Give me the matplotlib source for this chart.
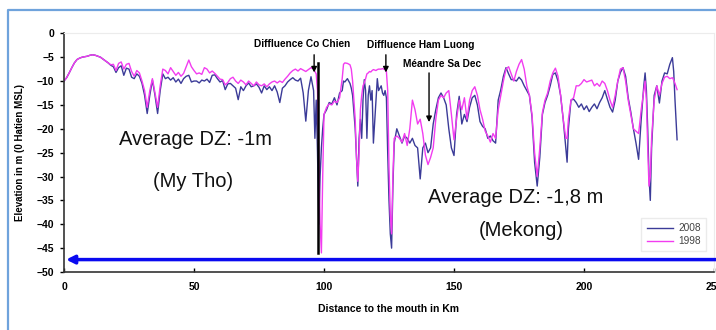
import matplotlib
matplotlib.use("Agg")
import matplotlib.pyplot as plt
from matplotlib.lines import Line2D

plt.rcParams['font.family'] = ['Liberation Sans', 'DejaVu Sans']

# Distance to the mouth (km)
km = [0, 1, 2, 3, 4, 5, 6, 7, 8, 9, 10, 11, 12, 13, 14, 15, 16, 17, 18,
      19, 20, 21, 22, 23, 24, 25, 26, 27, 28, 29, 30,
      31, 32, 33, 34, 35, 36, 37, 38,
      39, 40, 41, 42, 43, 44, 45, 46, 47, 48, 49, 50,
      51, 52, 53, 54, 55, 56, 57, 58, 59, 60, 61, 62, 63, 64, 65, 66, 67, 68, 69, 70,
      71, 72, 73, 74, 75, 76, 77, 78, 79, 80, 81, 82, 83, 84, 85, 86, 87, 88, 89, 90,
      91, 92, 93, 94, 95, 96, 96.5, 97, 97.5, 98, 98.5, 99, 99.5, 100,
      101, 102, 103, 104, 105, 106, 107, 107.5, 108, 109, 110, 110.5, 111, 112, 112.5, 113,
      113.5, 114, 114.5, 115, 115.5, 116, 116.5, 117, 117.5, 118, 118.5, 119, 120, 120.5,
      121, 122, 122.5, 123, 123.5, 124, 124.5, 125, 125.5, 126, 126.5,
      127, 128, 129, 130, 131, 132, 133, 134, 135, 136, 137, 138, 139, 140,
      141, 142, 143, 144, 145, 146, 147, 148, 149, 150,
      151, 152, 153, 154, 155, 156, 157, 158, 159, 160,
      161, 162, 163, 164, 165, 166, 167, 168, 169, 170,
      171, 172, 173, 174, 175, 176, 177, 178, 179, 180,
      181, 182, 183, 184, 185, 186, 187, 188, 189, 190,
      191, 192, 193, 193.5, 194, 195, 196, 197, 198, 199, 200,
      201, 202, 203, 204, 205, 206, 207, 208, 209, 210,
      211, 212, 213, 214, 215, 216, 217, 218, 219, 220,
      221, 222, 223, 223.5, 224, 224.5, 225, 225.5, 226, 227, 228, 229, 230,
      231, 232, 233, 234, 234.5, 235, 235.8]

# 1998 survey (m, 0 Hatien MSL)
z1998 = [-10, -9.3, -8.3, -7.2, -6.2, -5.5, -5.2, -5.0, -4.9, -4.8, -4.6, -4.5, -4.6, -4.8, -5.0, -5.4, -5.8, -6.2, -6.6,
         -6.5, -7.8, -6.3, -6.0, -7.5, -6.5, -6.3, -8.0, -9.0, -7.8, -8.3, -10.0,
         -12, -15.5, -12, -9.5, -12.5, -15.5, -11, -7.5,
         -7.8, -8.5, -7.2, -8.0, -8.8, -8.2, -9.0, -8.4, -7.0, -5.6, -7.0, -7.8,
         -8.5, -8.3, -8.6, -7.2, -7.5, -8.3, -7.9, -8.4, -9.0, -9.6, -9.7, -10.8, -10.3, -9.5, -9.2, -10.0, -10.5, -9.8, -10.2, -10.8,
         -10.0, -10.5, -11.0, -10.2, -10.8, -11.0, -10.6, -11.2, -10.6, -10.2, -10.0, -10.4, -10.0, -10.3, -9.6, -9.0, -8.3, -7.8, -7.5, -7.9,
         -7.4, -7.7, -8.0, -7.6, -7.2, -7.5, -8.0, -8.5, -12, -25, -40, -46, -30, -17,
         -15.5, -14.8, -15.0, -14.2, -14.5, -13.5, -9.5, -6.5, -6.2, -6.3, -6.6, -7.5, -10, -18, -26, -31,
         -25, -16, -13, -11, -10.4, -9.5, -8.5, -8.3, -8.0, -8.1, -7.8, -7.6, -7.8, -7.6,
         -7.5, -7.5, -7.4, -7.5, -7.6, -8.0, -12, -28, -38, -42, -30,
         -22, -21.5, -22, -22.8, -21, -23.5, -20, -14, -16, -19, -18, -21, -25.5, -27.5,
         -26, -24, -18, -14, -13, -13.5, -12.5, -12, -17, -22.3,
         -18, -14, -16, -13.5, -18, -14, -12, -11.2, -13, -16,
         -18, -20.5, -21.5, -22.8, -21, -22, -16, -13, -10, -7.5,
         -7.0, -8.5, -10, -8, -6.5, -5.5, -7.5, -11, -13, -17,
         -25, -30, -24, -16.6, -14, -12.5, -10, -8.3, -7.3, -9,
         -13, -18, -22, -22, -18, -14, -13.5, -11, -11, -10.5, -9.7,
         -10.2, -10, -9.8, -11, -10.5, -11.1, -10, -10.5, -12, -14,
         -15.5, -13, -10, -7.5, -7.2, -10, -14, -17, -20, -20.5,
         -21, -16, -12, -10, -14, -24, -32, -30, -22, -14, -11, -13, -10.5,
         -9.2, -9, -9.5, -9.3, -9.8, -10.5, -11.8]

# 2008 survey (m, 0 Hatien MSL)
z2008 = [-10, -9.3, -8.3, -7.2, -6.2, -5.5, -5.2, -5.0, -4.9, -4.8, -4.6, -4.5, -4.6, -4.8, -5.0, -5.4, -5.8, -6.2, -6.7,
         -7.0, -8.2, -7.2, -6.8, -8.8, -7.3, -7.5, -9.2, -9.5, -8.5, -9.0, -10.5,
         -13, -16.8, -13, -9.8, -13, -16.8, -12, -8.5,
         -9.5, -9.2, -9.8, -9.3, -10.2, -9.6, -10.5, -9.5, -9.0, -8.8, -10.2, -10.0,
         -10.0, -10.4, -9.8, -10.0, -9.6, -10.3, -8.8, -8.7, -9.5, -10.2, -9.9, -11.8, -10.6, -10.5, -11.0, -11.5, -13.9, -11.2, -12.0, -11.0,
         -10.4, -11.2, -11.0, -10.6, -11.3, -12.5, -11.0, -11.8, -11.2, -12.0, -11.0, -12.3, -14.5, -11.5, -11.0, -10.2, -9.7, -9.3, -9.8, -10.0,
         -9.4, -12.5, -18.4, -12.0, -9.1, -12, -22, -14, -25, -40, -30, -24, -20, -17,
         -16, -14.5, -14.8, -13.5, -15, -12.5, -12, -10, -10.2, -9.5, -10.5, -11.5, -13, -20, -26, -32,
         -22, -18, -22, -14, -9.7, -12, -22, -13, -11, -14, -12, -23, -14, -9.5,
         -12, -11, -12.5, -13, -12, -13.5, -25, -35, -42, -45, -32,
         -23, -20, -21.5, -23, -21.5, -22, -23, -22, -23.5, -24, -30.5, -24, -23, -25,
         -24, -19, -16, -13.5, -12.5, -13.5, -15, -20, -24, -25.6,
         -17, -13.2, -19, -17, -18.5, -15.5, -13.5, -13, -15, -18.5,
         -19.5, -20, -22, -21.5, -22.5, -23, -14, -11.8, -9, -7.2,
         -8.5, -9.7, -9.7, -10, -9.2, -9.8, -11, -12, -13, -17.5,
         -27, -32, -26, -17, -14.5, -13, -11, -8.6, -8.3, -10,
         -13, -18, -24, -27, -20, -14, -13.8, -14.5, -15.5, -14.8, -16,
         -15.2, -16.4, -15.5, -14.8, -15.8, -14.5, -13.5, -12, -13.8, -15.5,
         -16.5, -14, -10, -8.2, -7.2, -9, -13.5, -16.5, -20, -23,
         -26.4, -18, -11, -8.3, -12, -20, -30, -35, -24, -13, -11, -14.6, -10,
         -8.3, -8.5, -6.5, -5.1, -8, -14, -22.3]

y_ticks = [0, -5, -10, -15, -20, -25, -30, -35, -40, -45, -50]
x_ticks = [0, 50, 100, 150, 200, 250]

fig = plt.figure(figsize=(7.16, 3.30), dpi=100)
ax = fig.add_axes([64/716, 1 - 272/330, 650/716, (272 - 33.3)/330])

ax.plot(km, z2008, color='#3b3b98', lw=1.0, label='2008')
ax.plot(km, z1998, color='#f23cf0', lw=1.0, label='1998')

ax.set_xlim(0, 250)
ax.set_ylim(-50, 0)
ax.set_xticks(x_ticks)
ax.set_yticks(y_ticks)
ax.tick_params(axis='x', direction='in', length=3, pad=7, labelsize=7.5, width=1)
ax.tick_params(axis='y', direction='out', length=3, pad=4, labelsize=7.5, width=1)
for lab in ax.get_xticklabels() + ax.get_yticklabels():
    lab.set_fontweight('bold')
for s in ['left', 'bottom']:
    ax.spines[s].set_color('#333333')
    ax.spines[s].set_linewidth(1.2)
for s in ['top', 'right']:
    ax.spines[s].set_color('#ececec')
    ax.spines[s].set_linewidth(0.8)

ax.set_xlabel('Distance to the mouth in Km', fontsize=7.5, fontweight='bold')
ax.xaxis.set_label_coords(0.50, -0.134)
ax.set_ylabel('Elevation in m (0 Hatien MSL)', fontsize=7, fontweight='bold')
ax.yaxis.set_label_coords(-0.06, 0.5)

# black vertical marker
ax.plot([97.5, 97.5], [-6.3, -46], color='black', lw=1.8)

# annotations
arrow_kw = dict(arrowstyle='-|>', color='black', lw=1.0, mutation_scale=8, shrinkA=0, shrinkB=0)
ax.annotate('', xy=(96.2, -8.2), xytext=(96.2, -4.5), arrowprops=arrow_kw)
ax.annotate('', xy=(123.8, -8.2), xytext=(123.8, -4.5), arrowprops=arrow_kw)
ax.annotate('', xy=(140.4, -18.6), xytext=(140.4, -8.3), arrowprops=arrow_kw)
ax.text(91.5, -2.2, 'Diffluence Co Chien', fontsize=7.3, fontweight='bold', ha='center', va='center')
ax.text(137.3, -2.4, 'Diffluence Ham Luong', fontsize=7.3, fontweight='bold', ha='center', va='center')
ax.text(145.4, -6.4, 'Méandre Sa Dec', fontsize=7.3, fontweight='bold', ha='center', va='center')

ax.text(50.4, -22.2, 'Average DZ: -1m', fontsize=14.5, ha='center', va='center', color='#111111')
ax.text(49.6, -31.0, '(My Tho)', fontsize=14.5, ha='center', va='center', color='#111111')
ax.text(173.8, -34.3, 'Average DZ: -1,8 m', fontsize=14.5, ha='center', va='center', color='#111111')
ax.text(175.8, -41.4, '(Mekong)', fontsize=14.5, ha='center', va='center', color='#111111')

# blue horizontal arrow
ax.annotate('', xy=(0.8, -47.4), xytext=(251, -47.4),
            arrowprops=dict(arrowstyle='-|>', color='#0a0af0', lw=2.5, mutation_scale=12,
                            shrinkA=0, shrinkB=0), annotation_clip=False)

leg = ax.legend(loc='lower right', bbox_to_anchor=(0.995, 0.065), fontsize=7.3,
                handlelength=2.6, frameon=True, fancybox=False, edgecolor='#e6e6e6',
                borderpad=0.5, labelspacing=0.3, handletextpad=0.5)
for t in leg.get_texts():
    t.set_color('#444444')

# outer light-blue frame (partially cropped in original)
fig.add_artist(Line2D([8/716, 8/716, 1.0], [0.0, 1 - 10/330, 1 - 10/330],
                      transform=fig.transFigure, color='#6fa3dc', lw=1.6))

fig.savefig('out.png', dpi=100)
